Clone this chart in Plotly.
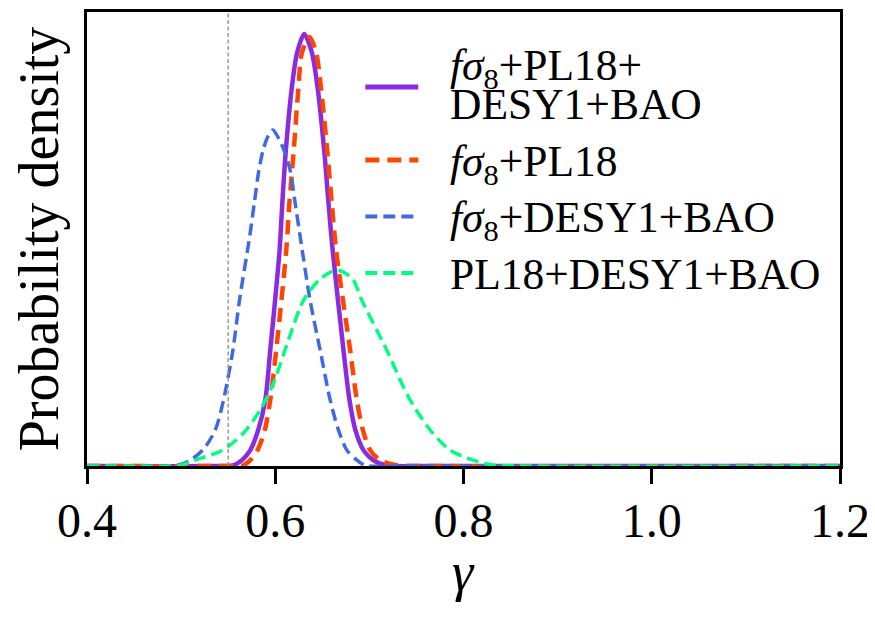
import plotly.graph_objects as go

# ---------------- data ----------------
x_range = [0.4, 1.2]
y_range = [0.0, 20.0]
x_tick_vals = [0.4, 0.6, 0.8, 1.0, 1.2]
x_tick_text = ["0.4", "0.6", "0.8", "1.0", "1.2"]
gamma_lcdm = 0.55

# fσ8+PL18+DESY1+BAO (purple, solid)
gamma_all = [0.40, 0.53, 0.555, 0.5647, 0.5735, 0.582, 0.5894, 0.5947, 0.6046, 0.6075,
             0.611, 0.6177, 0.6232, 0.6308, 0.639, 0.6449, 0.6523, 0.6566, 0.661, 0.6725,
             0.6789, 0.685, 0.6937, 0.704, 0.718, 0.76, 1.2]
dens_all = [0.0, 0.0, 0.03, 0.26, 0.7, 1.6, 2.9, 5.1, 9.5, 11.57,
            13.77, 16.7, 18.2, 19.03, 18.2, 16.7, 13.77, 11.57, 9.5, 5.1,
            2.9, 1.6, 0.7, 0.26, 0.03, 0.0, 0.0]

# fσ8+PL18 (orange-red, long dashes)
gamma_fs8_pl18 = [0.40, 0.54, 0.566, 0.5735, 0.5812, 0.589, 0.5947, 0.601, 0.6117, 0.615,
                  0.6194, 0.6247, 0.6283, 0.6364, 0.6435, 0.6485, 0.6555, 0.6601, 0.6647, 0.6796,
                  0.6867, 0.693, 0.7008, 0.7114, 0.729, 0.77, 1.2]
dens_fs8_pl18 = [0.0, 0.0, 0.03, 0.26, 0.7, 1.6, 2.9, 5.1, 9.5, 11.57,
                 13.77, 16.7, 18.2, 18.9, 18.2, 16.7, 13.77, 11.57, 9.5, 5.1,
                 2.9, 1.6, 0.7, 0.26, 0.03, 0.0, 0.0]

# fσ8+DESY1+BAO (royal blue, dashes)
gamma_fs8_des = [0.40, 0.45, 0.496, 0.51, 0.524, 0.5364, 0.545, 0.555, 0.562, 0.5728,
                 0.5777, 0.5825, 0.587, 0.592, 0.5975, 0.604, 0.6106, 0.616, 0.6212, 0.6265,
                 0.637, 0.6477, 0.6584, 0.667, 0.676, 0.6867, 0.695, 0.73, 1.2]
dens_fs8_des = [0.0, 0.0, 0.03, 0.26, 0.75, 1.6, 2.9, 5.1, 7.3, 10.1,
                11.57, 13.0, 13.9, 14.5, 14.8, 14.4, 13.77, 13.0, 11.57, 10.1,
                7.3, 5.1, 2.9, 1.6, 0.7, 0.26, 0.03, 0.0, 0.0]

# PL18+DESY1+BAO (spring green, dashes)
gamma_pl18_des = [0.40, 0.45, 0.499, 0.515, 0.544, 0.566, 0.584, 0.598, 0.614, 0.630,
                  0.648, 0.6655, 0.682, 0.692, 0.7185, 0.742, 0.7645, 0.7857, 0.81, 0.831,
                  0.87, 1.2]
dens_pl18_des = [0.0, 0.0, 0.03, 0.26, 0.7, 1.44, 2.47, 3.64, 5.55, 7.3,
                 8.25, 8.63, 8.25, 7.3, 5.1, 3.0, 1.59, 0.7, 0.26, 0.05,
                 0.0, 0.0]

series = [
    dict(x=gamma_all, y=dens_all, color="#8a2be2", width=4.5, dash="solid",
         label=["<i>fσ</i><sub>8</sub>+PL18+", "DESY1+BAO"]),
    dict(x=gamma_fs8_pl18, y=dens_fs8_pl18, color="#ff4500", width=4.5, dash="14px,8px",
         label=["<i>fσ</i><sub>8</sub>+PL18"]),
    dict(x=gamma_fs8_des, y=dens_fs8_des, color="#4169e1", width=3.5, dash="12px,6px",
         label=["<i>fσ</i><sub>8</sub>+DESY1+BAO"]),
    dict(x=gamma_pl18_des, y=dens_pl18_des, color="#00ff7f", width=3.5, dash="12px,6px",
         label=["PL18+DESY1+BAO"]),
]

FONT = "Liberation Serif"

fig = go.Figure()
for s in series:
    fig.add_trace(go.Scatter(
        x=s["x"], y=s["y"], mode="lines",
        line=dict(color=s["color"], width=s["width"], dash=s["dash"], shape="spline", smoothing=0.8),
        name=" ".join(s["label"]), showlegend=False, hoverinfo="skip"))

# vertical reference line at gamma = 0.55
fig.add_shape(type="line", xref="x", yref="paper", x0=gamma_lcdm, x1=gamma_lcdm, y0=0, y1=1,
              line=dict(color="rgba(150,150,150,0.95)", width=1.5, dash="4px,2.5px"))

# hand-built legend (matplotlib style, no frame)
leg_x0, leg_x1, leg_tx = 0.3696, 0.4399, 0.4790
leg_rows = [0.8348, 0.674, 0.5496, 0.4251]
text_rows = [[0.8833, 0.7996], [0.6740], [0.5496], [0.4251]]
for s, yrow, trows in zip(series, leg_rows, text_rows):
    fig.add_shape(type="line", xref="paper", yref="paper", x0=leg_x0, x1=leg_x1, y0=yrow, y1=yrow,
                  line=dict(color=s["color"], width=s["width"] + 0.6, dash=s["dash"]))
    for txt, yy in zip(s["label"], trows):
        shift = -4 if "<sub>" in txt else -1
        fig.add_annotation(xref="paper", yref="paper", x=leg_tx, y=yy, text=txt,
                           showarrow=False, xanchor="left", yanchor="middle", yshift=shift,
                           font=dict(family=FONT, size=43.5, color="black"))

# x-axis title placed like the matplotlib label
fig.add_annotation(xref="paper", yref="paper", x=0.5, y=-0.2330, text="<i>γ</i>",
                   showarrow=False, xanchor="center", yanchor="middle",
                   font=dict(family=FONT, size=54, color="black"))

# page body has an 8px offset: size the figure so the plot area lands where the reference has it
fig.update_layout(
    width=867, height=612,
    margin=dict(l=78.5, r=35, t=4, b=154, autoexpand=False),
    plot_bgcolor="white", paper_bgcolor="white",
    showlegend=False,
    font=dict(family=FONT, color="black"),
)
fig.update_xaxes(
    range=x_range, tickvals=x_tick_vals, ticktext=x_tick_text,
    ticks="outside", ticklen=15, tickwidth=2.5, tickcolor="black",
    showline=True, linewidth=2.5, linecolor="black", mirror=True,
    showgrid=False, zeroline=False, automargin=False,
    tickfont=dict(family=FONT, size=48, color="black"),
    ticklabelstandoff=-4,
)
fig.update_yaxes(
    range=y_range, showticklabels=False, ticks="",
    showline=True, linewidth=2.5, linecolor="black", mirror=True,
    showgrid=False, zeroline=False, automargin=False,
    title=dict(text="Probability density", font=dict(family=FONT, size=56, color="black"), standoff=12),
)

fig.write_html("out.html")
